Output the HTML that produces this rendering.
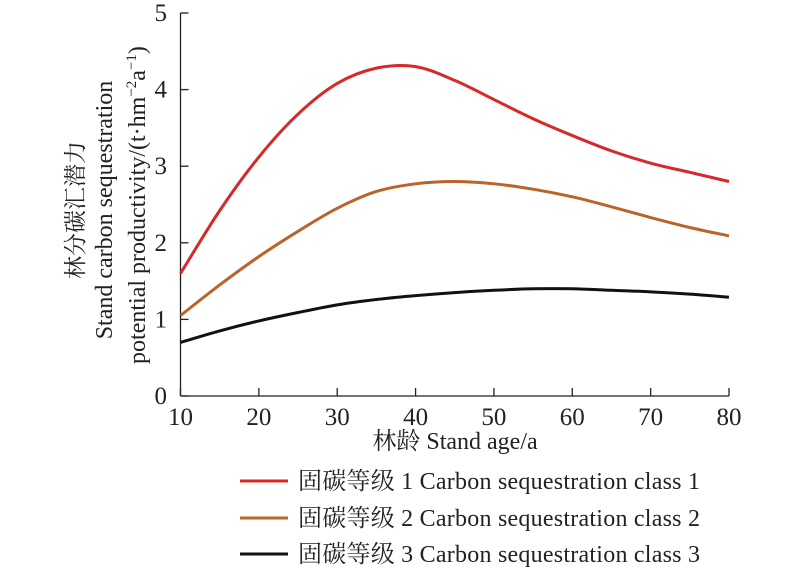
<!DOCTYPE html>
<html><head><meta charset="utf-8"><style>
body{margin:0;background:#fff}
svg text{font-family:"Liberation Serif","Noto Serif CJK SC",serif;fill:#222}
</style></head><body>
<svg width="800" height="571" viewBox="0 0 800 571" xmlns="http://www.w3.org/2000/svg" id="chart">
<g id="axes"></g>
<g id="series"></g>
<g>
<text x="83" y="210" font-size="23" text-anchor="middle" transform="rotate(-90 83 210)">林分碳汇潜力</text>
<text x="112" y="210" font-size="24" text-anchor="middle" transform="rotate(-90 112 210)">Stand carbon sequestration</text>
<text x="145" y="205" font-size="24" text-anchor="middle" transform="rotate(-90 145 205)">potential productivity/(t·hm<tspan font-size="15" dy="-9">−2</tspan><tspan dy="9">a</tspan><tspan font-size="15" dy="-9">−1</tspan><tspan dy="9">)</tspan></text>
</g>
<text x="455" y="449" font-size="24" text-anchor="middle">林龄 Stand age/a</text>
<g>
<g><line x1="240" y1="481" x2="288" y2="481" stroke="#d42a2a" stroke-width="3"/><text x="298" y="489" font-size="24" textLength="402">固碳等级 1 Carbon sequestration class 1</text></g>
<g><line x1="240" y1="518" x2="288" y2="518" stroke="#b9642a" stroke-width="3"/><text x="298" y="526" font-size="24" textLength="402">固碳等级 2 Carbon sequestration class 2</text></g>
<g><line x1="240" y1="554" x2="288" y2="554" stroke="#111" stroke-width="3"/><text x="298" y="562" font-size="24" textLength="402">固碳等级 3 Carbon sequestration class 3</text></g>
</g>
</svg>
<script>
const ages=[10,15,20,25,30,35,40,45,50,55,60,65,70,75,80];
const class1=[1.6,2.42,3.12,3.68,4.08,4.28,4.3,4.12,3.87,3.62,3.4,3.2,3.04,2.92,2.8];
const class2=[1.05,1.45,1.82,2.15,2.45,2.67,2.77,2.8,2.77,2.7,2.6,2.47,2.33,2.2,2.09];
const class3=[0.7,0.85,0.98,1.09,1.19,1.26,1.31,1.35,1.38,1.4,1.4,1.38,1.36,1.33,1.29];
const xTicks=[10,20,30,40,50,60,70,80];
const yTicks=[0,1,2,3,4,5];
const NS="http://www.w3.org/2000/svg";
const X=v=>180.5+(v-10)*(729-180.5)/70;
const Y=v=>396-v*(396-13)/5;
const axes=document.getElementById('axes'),ser=document.getElementById('series');
function mk(tag,attrs,parent){const e=document.createElementNS(NS,tag);for(const k in attrs)e.setAttribute(k,attrs[k]);parent.appendChild(e);return e;}
const xl=mk('line',{x1:X(10),y1:Y(0),x2:X(80),y2:Y(0),stroke:'#222','stroke-width':1.3},axes);


const yl=mk('line',{x1:X(10),y1:Y(0),x2:X(10),y2:Y(5),stroke:'#222','stroke-width':1.3},axes);


xTicks.forEach(t=>{
 const l=mk('line',{x1:X(t),y1:Y(0),x2:X(t),y2:Y(0)-8,stroke:'#222','stroke-width':1.3},axes);
 
 
 const tx=mk('text',{x:X(t),y:425,'font-size':25,'text-anchor':'middle'},axes);tx.textContent=t;
 
 
});
yTicks.forEach(t=>{
 const l=mk('line',{x1:X(10),y1:Y(t),x2:X(10)+8,y2:Y(t),stroke:'#222','stroke-width':1.3},axes);
 
 
 const tx=mk('text',{x:167,y:Y(t)+8,'font-size':25,'text-anchor':'end'},axes);tx.textContent=t;
 
 
});
function path(vals){
 const p=ages.map((a,i)=>[X(a),Y(vals[i])]);
 let d='M'+p[0][0]+','+p[0][1];
 for(let i=0;i<p.length-1;i++){
  const p0=p[Math.max(0,i-1)],p1=p[i],p2=p[i+1],p3=p[Math.min(p.length-1,i+2)];
  const c1=[p1[0]+(p2[0]-p0[0])/6,p1[1]+(p2[1]-p0[1])/6],c2=[p2[0]-(p3[0]-p1[0])/6,p2[1]-(p3[1]-p1[1])/6];
  d+=' C'+c1+' '+c2+' '+p2;
 }
 return d;
}
[[class1,'#d42a2a','line-class-1'],[class2,'#b9642a','line-class-2'],[class3,'#111','line-class-3']].forEach(([v,c,n])=>{
 const e=mk('path',{d:path(v),fill:'none',stroke:c,'stroke-width':3},ser);
 
 
});
</script>
</body></html>
